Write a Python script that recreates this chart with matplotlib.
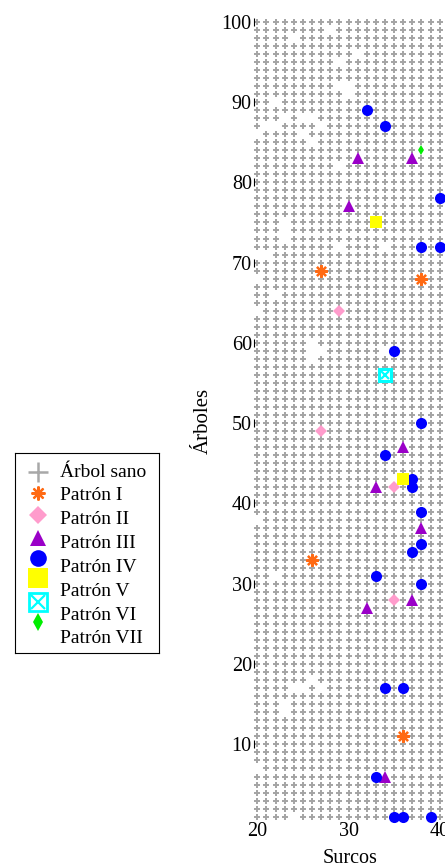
import numpy as np
import matplotlib
matplotlib.use("Agg")
import matplotlib.pyplot as plt

plt.rcParams['font.family'] = ['Liberation Serif', 'DejaVu Serif']

# Field layout: rows (surcos) and tree positions (árboles)
surcos = list(range(20, 41))
arboles = list(range(1, 101))

# Positions with no tree
faltantes = [(28, 99), (24, 98), (31, 96), (29, 95), (29, 92), (30, 92), (30, 91),
             (22, 90), (23, 88), (25, 88), (26, 88), (21, 87), (22, 87), (27, 87),
             (20, 86), (25, 86), (26, 85), (29, 82), (23, 75), (23, 74), (23, 73),
             (29, 72), (34, 72), (20, 71), (21, 71), (20, 68), (22, 66), (20, 64),
             (26, 60), (26, 59), (27, 59), (34, 59), (26, 58), (35, 43), (20, 38),
             (22, 31), (26, 18), (24, 17), (25, 17), (27, 17), (23, 15), (23, 14),
             (20, 7), (24, 1)]

# Diseased trees by pattern
patron_I_x = [27, 38, 26, 36]
patron_I_y = [69, 68, 33, 11]
patron_II_x = [29, 27, 35, 35]
patron_II_y = [64, 49, 42, 28]
patron_III_x = [31, 37, 30, 36, 33, 38, 37, 32, 34]
patron_III_y = [83, 83, 77, 47, 42, 37, 28, 27, 6]
patron_IV_x = [32, 34, 40, 38, 40, 35, 38, 34, 37, 37, 38, 38, 37, 33, 38, 34, 36, 33, 35, 36, 39]
patron_IV_y = [89, 87, 78, 72, 72, 59, 50, 46, 43, 42, 39, 35, 34, 31, 30, 17, 17, 6, 1, 1, 1]
patron_V_x = [33, 36]
patron_V_y = [75, 43]
patron_VI_x = [34]
patron_VI_y = [56]
patron_VII_x = [38]
patron_VII_y = [84]

y_ticks = [10, 20, 30, 40, 50, 60, 70, 80, 90, 100]
x_ticks = [20, 30, 40]

enfermos = set()
for xs, ys in [(patron_I_x, patron_I_y), (patron_II_x, patron_II_y),
               (patron_III_x, patron_III_y), (patron_IV_x, patron_IV_y),
               (patron_V_x, patron_V_y), (patron_VI_x, patron_VI_y),
               (patron_VII_x, patron_VII_y)]:
    enfermos.update(zip(xs, ys))
vacios = set(faltantes) | enfermos
sanos = [(s, a) for s in surcos for a in arboles if (s, a) not in vacios]
sano_x = [p[0] for p in sanos]
sano_y = [p[1] for p in sanos]

W, H = 445, 867
fig = plt.figure(figsize=(W / 100, H / 100), dpi=100)

L, R, T, B = 253.5, 445.0, 14.0, 821.0
ax = fig.add_axes([L / W, 1 - B / H, (R - L) / W, (B - T) / H])
ax.set_xlim(19.583, 40.58)
ax.set_ylim(0.46, 100.96)
for sp in ax.spines.values():
    sp.set_visible(False)

GRAY = '#a4a4a4'
ORANGE = '#ff6a13'
PINK = '#ff9ccc'
PURPLE = '#9a00c8'
BLUE = '#0000ff'
YELLOW = '#ffff00'
CYAN = '#00ffff'
GREEN = '#00ee00'

ax.plot(sano_x, sano_y, ls='none', marker='+', ms=4.3, mew=1.4, color=GRAY)
ax.plot(patron_I_x, patron_I_y, ls='none', marker=(8, 2, 0), ms=9.0, mew=1.6,
        color=ORANGE, clip_on=False)
ax.plot(patron_II_x, patron_II_y, ls='none', marker='D', ms=6.3, mew=0,
        color=PINK, clip_on=False)
ax.plot(patron_III_x, patron_III_y, ls='none', marker='^', ms=8.3, mew=0,
        color=PURPLE, clip_on=False)
ax.plot(patron_IV_x, patron_IV_y, ls='none', marker='o', ms=8.0, mew=0,
        color=BLUE, clip_on=False)
ax.plot(patron_V_x, patron_V_y, ls='none', marker='s', ms=8.8, mew=0,
        color=YELLOW, clip_on=False)
ax.plot(patron_VI_x, patron_VI_y, ls='none', marker='s', ms=8.4, mew=2.2,
        mfc='white', mec=CYAN, clip_on=False)
ax.plot(patron_VI_x, patron_VI_y, ls='none', marker='x', ms=6.0, mew=1.6,
        color=CYAN, clip_on=False)
ax.plot(patron_VII_x, patron_VII_y, ls='none', marker='d', ms=5.4, mew=0,
        color=GREEN, clip_on=False)

ax.set_yticks(y_ticks)
ax.set_yticklabels([str(v) for v in y_ticks])
ax.set_xticks(x_ticks)
ax.set_xticklabels([str(v) for v in x_ticks])
ax.tick_params(axis='y', length=0, pad=1.2, labelsize=14.5)
ax.tick_params(axis='x', length=0, pad=1.0, labelsize=14.5)

# short marks at the y tick positions
ax.plot([ax.get_xlim()[0]] * len(y_ticks), y_ticks, ls='none', marker='|',
        ms=5.5, mew=0.8, color='black', clip_on=False)

fig.text(349.7 / W, 1 - 863 / H, 'Surcos', ha='center', va='baseline', fontsize=14.5)
fig.text(203 / W, 1 - 421 / H, 'Árboles', ha='center', va='center',
         rotation=90, fontsize=15)

# Legend box
lx0, ly0, lx1, ly1 = 15, 453, 159, 653
lg = fig.add_axes([lx0 / W, 1 - ly1 / H, (lx1 - lx0) / W, (ly1 - ly0) / H])
lg.set_xlim(0, lx1 - lx0)
lg.set_ylim(ly1 - ly0, 0)
lg.set_xticks([])
lg.set_yticks([])
for sp in lg.spines.values():
    sp.set_linewidth(0.8)
    sp.set_color('black')

etiquetas = ['Árbol sano', 'Patrón I', 'Patrón II', 'Patrón III', 'Patrón IV',
             'Patrón V', 'Patrón VI', 'Patrón VII']
marca_y = [18.7, 40.3, 62.0, 84.7, 105.3, 125.3, 149.3, 168.7]
mx = 23
lg.plot([mx], [marca_y[0]], marker='+', ms=14.4, mew=1.8, color='#a8a8a8')
lg.plot([mx], [marca_y[1]], marker=(8, 2, 0), ms=10.0, mew=1.6, color=ORANGE)
lg.plot([mx], [marca_y[2]], marker='D', ms=8.7, mew=0, color=PINK)
lg.plot([mx], [marca_y[3]], marker='^', ms=12.0, mew=0, color=PURPLE)
lg.plot([mx], [marca_y[4]], marker='o', ms=12.0, mew=0, color=BLUE)
lg.plot([mx], [marca_y[5]], marker='s', ms=14.2, mew=0, color=YELLOW)
lg.plot([mx], [marca_y[6]], marker='s', ms=12.8, mew=2.0, mfc='white', mec=CYAN)
lg.plot([mx], [marca_y[6]], marker='x', ms=10.5, mew=1.6, color=CYAN)
lg.plot([mx], [marca_y[7]], marker='d', ms=9.2, mew=0, color=GREEN)

for i, t in enumerate(etiquetas):
    lg.text(45, 23.7 + 23.8 * i, t, ha='left', va='baseline', fontsize=14)

fig.savefig('out.png', dpi=100)
